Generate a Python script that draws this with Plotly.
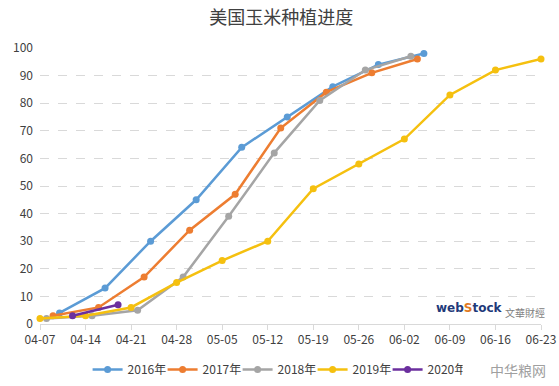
import plotly.graph_objects as go

# Data (dates mapped onto a common year for plotting on a month-day axis)
dates_2016 = ["04-10", "04-17", "04-24", "05-01", "05-08", "05-15", "05-22", "05-29", "06-05"]
vals_2016 = [4, 13, 30, 45, 64, 75, 86, 94, 98]

dates_2017 = ["04-09", "04-16", "04-23", "04-30", "05-07", "05-14", "05-21", "05-28", "06-04"]
vals_2017 = [3, 6, 17, 34, 47, 71, 84, 91, 96]

dates_2018 = ["04-08", "04-15", "04-22", "04-29", "05-06", "05-13", "05-20", "05-27", "06-03"]
vals_2018 = [2, 3, 5, 17, 39, 62, 81, 92, 97]

dates_2019 = ["04-07", "04-14", "04-21", "04-28", "05-05", "05-12", "05-19", "05-26", "06-02", "06-09", "06-16", "06-23"]
vals_2019 = [2, 3, 6, 15, 23, 30, 49, 58, 67, 83, 92, 96]

dates_2020 = ["04-12", "04-19"]
vals_2020 = [3, 7]

tick_labels = ["04-07", "04-14", "04-21", "04-28", "05-05", "05-12", "05-19",
               "05-26", "06-02", "06-09", "06-16", "06-23"]

BASE_YEAR = "2020-"

series = [
    ("2016年", dates_2016, vals_2016, "#5B9BD5"),
    ("2017年", dates_2017, vals_2017, "#ED7D31"),
    ("2018年", dates_2018, vals_2018, "#A5A5A5"),
    ("2019年", dates_2019, vals_2019, "#F5C00F"),
    ("2020年", dates_2020, vals_2020, "#6B2F9E"),
]

FONT = "Noto Sans CJK SC"

fig = go.Figure()
for name, d, v, c in series:
    fig.add_trace(go.Scatter(
        x=[BASE_YEAR + s for s in d], y=v, name=name, mode="lines+markers",
        line=dict(color=c, width=2.5),
        marker=dict(color=c, size=7),
        cliponaxis=False,
    ))

fig.update_layout(
    width=559, height=386,
    margin=dict(l=40, r=18, t=48, b=62, autoexpand=False),
    paper_bgcolor="white", plot_bgcolor="white",
    font=dict(family=FONT, size=12, color="#404040"),
    title=dict(text="美国玉米种植进度", x=0.503, xanchor="center", y=0.953, yanchor="middle",
               font=dict(family=FONT, size=18, color="#404040")),
    showlegend=True,
    legend=dict(orientation="h", x=0.095, xanchor="left", y=-0.165, yanchor="middle",
                font=dict(family=FONT, size=12, color="#404040"),
                itemwidth=30, tracegroupgap=0,
                entrywidth=30, entrywidthmode="pixels"),
    xaxis=dict(
        type="date",
        range=[BASE_YEAR + "04-07", BASE_YEAR + "06-23"],
        tickvals=[BASE_YEAR + t for t in tick_labels],
        ticktext=tick_labels,
        showgrid=False,
        showline=True, linecolor="#D9D9D9", linewidth=1,
        ticks="outside", ticklen=5, tickcolor="#D9D9D9",
        tickfont=dict(family=FONT, size=12, color="#404040"),
        zeroline=False,
    ),
    yaxis=dict(
        range=[0, 100], dtick=10, tick0=0,
        showgrid=True, gridcolor="#D9D9D9", griddash="dash", gridwidth=1,
        showline=False, zeroline=False,
        tickfont=dict(family=FONT, size=12, color="#404040"),
        ticks="", ticklabelstandoff=6,
    ),
)

# Watermarks
fig.add_annotation(xref="paper", yref="paper", x=0.928, y=0.058, xanchor="right", yanchor="middle",
                   text="<b>web<span style='color:#E07A1F'>S</span>tock</b>", showarrow=False,
                   font=dict(family="DejaVu Sans", size=12, color="#1F3A7A"))
fig.add_annotation(xref="paper", yref="paper", x=1.012, y=0.04, xanchor="right", yanchor="middle",
                   text="文華財經", showarrow=False,
                   font=dict(family="Noto Sans CJK TC", size=10, color="#808080"))
fig.add_annotation(xref="paper", yref="paper", x=0.895, y=-0.165, xanchor="left", yanchor="middle",
                   text="中华粮网", showarrow=False,
                   font=dict(family=FONT, size=14, color="#A0A0A0"))

fig.write_html("out.html", config={"displayModeBar": False},
               post_script="document.body.style.margin='0px';")
